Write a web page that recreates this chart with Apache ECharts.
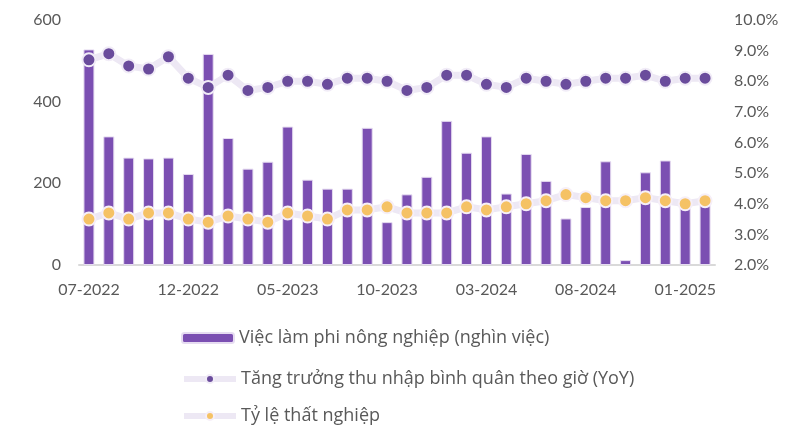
<!DOCTYPE html>
<html>
<head>
<meta charset="utf-8">
<script src="https://cdn.jsdelivr.net/npm/echarts@6/dist/echarts.min.js"></script>
<style>
  html, body { margin: 0; padding: 0; background: #fff; }
  #chart { width: 791px; height: 425px; }
</style>
</head>
<body>
<div id="chart"></div>
<script>
// tháng 07-2022 .. 02-2025
const months = [
  '07-2022', '08-2022', '09-2022', '10-2022', '11-2022', '12-2022',
  '01-2023', '02-2023', '03-2023', '04-2023', '05-2023', '06-2023',
  '07-2023', '08-2023', '09-2023', '10-2023', '11-2023', '12-2023',
  '01-2024', '02-2024', '03-2024', '04-2024', '05-2024', '06-2024',
  '07-2024', '08-2024', '09-2024', '10-2024', '11-2024', '12-2024',
  '01-2025', '02-2025'
]
// việc làm phi nông nghiệp (nghìn)
const payrolls = [
  528, 315, 263, 261, 263, 223, 517, 311, 236, 253, 339, 209,
  187, 187, 336, 105, 173, 216, 353, 275, 315, 175, 272, 206,
  114, 142, 254, 12, 227, 256, 143, 151
]
// tăng trưởng thu nhập theo giờ (%)
const wageGrowth = [
  8.7, 8.9, 8.5, 8.4, 8.8, 8.1, 7.8, 8.2, 7.7, 7.8, 8.0, 8.0,
  7.9, 8.1, 8.1, 8.0, 7.7, 7.8, 8.2, 8.2, 7.9, 7.8, 8.1, 8.0,
  7.9, 8.0, 8.1, 8.1, 8.2, 8.0, 8.1, 8.1
]
// tỷ lệ thất nghiệp (%)
const unemployment = [
  3.5, 3.7, 3.5, 3.7, 3.7, 3.5, 3.4, 3.6, 3.5, 3.4, 3.7, 3.6,
  3.5, 3.8, 3.8, 3.9, 3.7, 3.7, 3.7, 3.9, 3.8, 3.9, 4.0, 4.1,
  4.3, 4.2, 4.1, 4.1, 4.2, 4.1, 4.0, 4.1
]

const names = [
  'Việc làm phi nông nghiệp (nghìn việc)',
  'Tăng trưởng thu nhập bình quân theo giờ (YoY)',
  'Tỷ lệ thất nghiệp'
]

const myChart = echarts.init(document.getElementById('chart'))
const font = 'Lato, "Noto Sans", sans-serif'

// mỗi mục chú thích một dòng riêng
const legendTops = [329, 370, 407]
const legends = names.map((n, i) => ({
  data: [n],
  left: 181,
  top: legendTops[i],
  padding: 0,
  itemWidth: 52,
  itemHeight: 10,
  lineStyle: { width: 6 },
  textStyle: { fontSize: 18, color: '#595959', fontFamily: '"Open Sans", Lato, sans-serif' }
}))

const option = {
  animation: false,
  textStyle: { fontFamily: font },
  grid: { left: 79, right: 76, top: 20, bottom: 160 },
  legend: legends,
  xAxis: {
    type: 'category',
    data: months,
    axisLine: { lineStyle: { color: '#d9d9d9', width: 2 } },
    axisTick: { interval: 4, length: 6, lineStyle: { color: '#d9d9d9', width: 2 } },
    axisLabel: { interval: 4, fontSize: 16, color: '#595959', margin: 17 }
  },
  yAxis: [
    {
      type: 'value',
      min: 0,
      max: 600,
      interval: 200,
      splitLine: { show: false },
      axisLine: { show: false },
      axisLabel: { fontSize: 16, color: '#595959', margin: 18 }
    },
    {
      type: 'value',
      min: 2,
      max: 10,
      interval: 1,
      splitLine: { show: false },
      axisLine: { show: false },
      axisLabel: {
        fontSize: 16,
        color: '#595959',
        margin: 19,
        formatter: v => v.toFixed(1) + '%'
      }
    }
  ],
  series: [
    {
      name: names[0],
      type: 'bar',
      data: payrolls,
      barWidth: 11,
      itemStyle: { color: '#7B4FB2', borderColor: '#E6DCF1', borderWidth: 1 },
      z: 1
    },
    {
      name: names[1],
      type: 'line',
      yAxisIndex: 1,
      data: wageGrowth,
      symbol: 'circle',
      symbolSize: 13,
      lineStyle: { color: '#EDE8F4', width: 7 },
      itemStyle: { color: '#6A4C9C', borderColor: '#F1ECF7', borderWidth: 2 },
      z: 3
    },
    {
      name: names[2],
      type: 'line',
      yAxisIndex: 1,
      data: unemployment,
      symbol: 'circle',
      symbolSize: 13,
      lineStyle: { color: '#EDE8F4', width: 7 },
      itemStyle: { color: '#F5C265', borderColor: '#F6EFF8', borderWidth: 2 },
      z: 3
    }
  ]
}

myChart.setOption(option)
</script>
</body>
</html>
